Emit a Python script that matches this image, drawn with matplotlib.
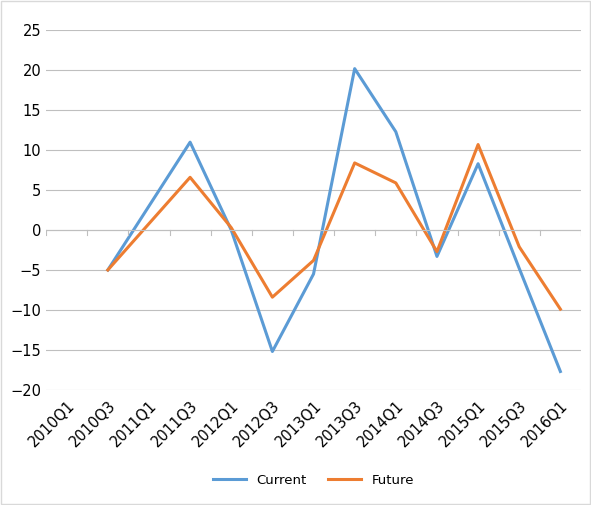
import numpy as np
import matplotlib.pyplot as plt

plt.rcParams['font.family'] = ['Liberation Sans Narrow', 'DejaVu Sans']

quarters = ["2010Q1", "2010Q3", "2011Q1", "2011Q3", "2012Q1", "2012Q3", "2013Q1",
            "2013Q3", "2014Q1", "2014Q3", "2015Q1", "2015Q3", "2016Q1"]
current = [np.nan, -5.0, 3.0, 11.0, 0.0, -15.2, -5.5, 20.2, 12.3, -3.3, 8.3, -4.8, -17.7]
future = [np.nan, -5.0, 0.8, 6.6, 0.3, -8.4, -3.8, 8.4, 5.9, -2.7, 10.7, -2.1, -9.9]

fig = plt.figure(figsize=(5.91, 5.05), dpi=100)
ax = fig.add_axes([0.078, 0.228, 0.905, 0.712])
x = np.arange(len(quarters))
ax.plot(x, current, color="#5B9BD5", lw=2.2, label="Current")
ax.plot(x, future, color="#ED7D31", lw=2.2, label="Future")

ax.set_ylim(-20, 25)
ax.set_yticks(range(-20, 30, 5))
ax.set_xlim(-0.5, len(quarters) - 0.5)
ax.grid(axis="y", color="#BFBFBF", lw=0.8)
ax.set_axisbelow(True)
for s in ax.spines.values():
    s.set_visible(False)
ax.axhline(0, color="#BFBFBF", lw=0.8)
for xi in np.arange(-0.5, len(quarters), 1):
    ax.plot([xi, xi], [0, -0.6], color="#BFBFBF", lw=0.8)
ax.set_xticks(x)
ax.set_xticklabels(quarters, rotation=45, ha="right", rotation_mode="anchor")
ax.tick_params(length=0, labelsize=10.5, colors="#000000")
ax.tick_params(axis="x", pad=6)
ax.legend(loc="upper center", bbox_to_anchor=(0.5, -0.2), ncol=2, frameon=False,
          fontsize=9.5, handlelength=2.5, columnspacing=1.6)

fig.patches.append(plt.Rectangle((0.002, 0.002), 0.996, 0.996, transform=fig.transFigure,
                                 fill=False, edgecolor="#D9D9D9", lw=1))
fig.savefig("out.png", dpi=100)
